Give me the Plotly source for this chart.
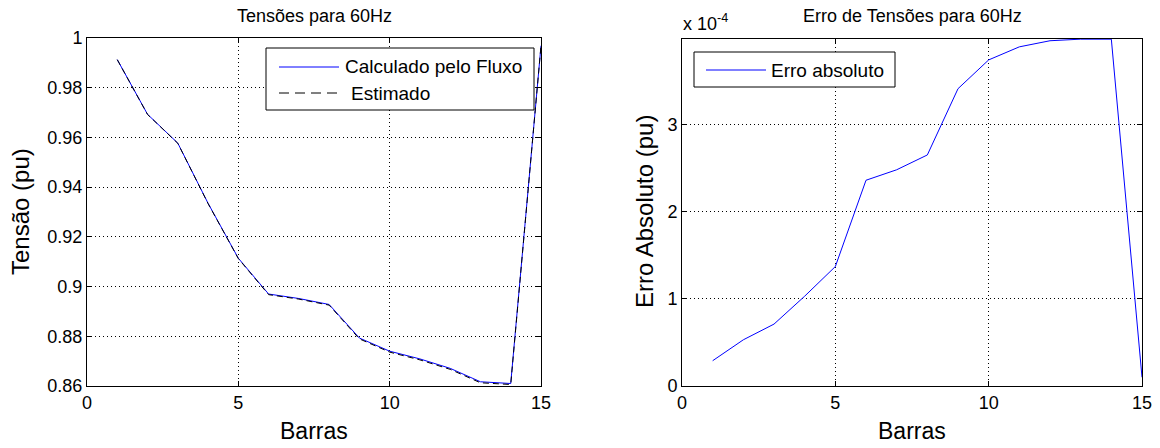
import plotly.graph_objects as go

# ---- data ----
barras = [1, 2, 3, 4, 5, 6, 7, 8, 9, 10, 11, 12, 13, 14, 15]
tensao_calculada = [0.9913, 0.9693, 0.9577, 0.9335, 0.9114, 0.8970, 0.8952, 0.8928,
                    0.8793, 0.8740, 0.8709, 0.8671, 0.8617, 0.8610, 0.9969]
tensao_estimada = [0.99127, 0.96925, 0.95763, 0.93340, 0.91126, 0.89676, 0.89495, 0.89253,
                   0.87896, 0.87363, 0.87051, 0.86670, 0.86130, 0.86060, 0.99689]
erro_absoluto_e4 = [0.29, 0.53, 0.71, 1.03, 1.37, 2.36, 2.48, 2.65,
                    3.41, 3.74, 3.89, 3.96, 3.978, 3.978, 0.10]

x_ticks = [0, 5, 10, 15]
y1_ticks = [0.86, 0.88, 0.90, 0.92, 0.94, 0.96, 0.98, 1.0]
y1_labels = ["0.86", "0.88", "0.9", "0.92", "0.94", "0.96", "0.98", "1"]
y2_ticks = [0, 1, 2, 3]

FONT = "Liberation Sans, Arial, sans-serif"
W, H = 1160, 448

fig = go.Figure()
fig.add_trace(go.Scatter(x=barras, y=tensao_calculada, mode="lines",
                         line=dict(color="#0000ff", width=1), xaxis="x", yaxis="y",
                         name="Calculado pelo Fluxo", showlegend=False))
fig.add_trace(go.Scatter(x=barras, y=tensao_estimada, mode="lines",
                         line=dict(color="#000000", width=1, dash="6px,4px"), xaxis="x", yaxis="y",
                         name="Estimado", showlegend=False))
fig.add_trace(go.Scatter(x=barras, y=erro_absoluto_e4, mode="lines",
                         line=dict(color="#0000ff", width=1), xaxis="x2", yaxis="y2",
                         name="Erro absoluto", showlegend=False))

def px(x):
    return x / W

def py(y):
    return 1 - y / H

axis_common = dict(showline=True, linecolor="black", linewidth=1, mirror="allticks",
                   ticks="inside", ticklen=5, tickcolor="black", automargin=False,
                   showgrid=True, gridcolor="black", gridwidth=1, griddash="1px,3px",
                   zeroline=False, tickfont=dict(family=FONT, size=18, color="black"))

fig.update_layout(
    width=W, height=H, margin=dict(l=0, r=0, t=0, b=0, pad=0),
    paper_bgcolor="white", plot_bgcolor="white",
    xaxis=dict(domain=[px(87), px(541)], range=[0, 15], tickvals=x_ticks,
               anchor="y", **axis_common),
    yaxis=dict(domain=[py(386), py(38)], range=[0.86, 1.0], tickvals=y1_ticks,
               ticktext=y1_labels, anchor="x", ticklabelstandoff=0, **axis_common),
    xaxis2=dict(domain=[px(682), px(1142)], range=[0, 15], tickvals=x_ticks,
                anchor="y2", **axis_common),
    yaxis2=dict(domain=[py(386), py(39)], range=[0, 3.98], tickvals=y2_ticks,
                anchor="x2", ticklabelstandoff=0, **axis_common),
    showlegend=False,
)

ann = []
def text(x, y, t, size, xanchor="center", yanchor="middle", angle=0):
    ann.append(dict(x=px(x), y=py(y), xref="paper", yref="paper", text=t, showarrow=False,
                    xanchor=xanchor, yanchor=yanchor, textangle=angle,
                    font=dict(family=FONT, size=size, color="black")))

text(314, 16, "Tensões para 60Hz", 18)
text(912, 16, "Erro de Tensões para 60Hz", 18)
text(314, 431, "Barras", 23)
text(912, 431, "Barras", 23)
text(20, 212, "Tensão (pu)", 24, angle=-90)
text(644, 212, "Erro Absoluto (pu)", 24, angle=-90)
text(681, 22, "x 10<sup>-4</sup>", 18, xanchor="left")

# legend (left)
shapes = []
shapes.append(dict(type="rect", xref="paper", yref="paper", x0=px(266), x1=px(534),
                   y0=py(110), y1=py(48), line=dict(color="black", width=1), fillcolor="white"))
shapes.append(dict(type="line", xref="paper", yref="paper", x0=px(279), x1=px(339),
                   y0=py(67), y1=py(67), line=dict(color="#0000ff", width=1)))
shapes.append(dict(type="line", xref="paper", yref="paper", x0=px(279), x1=px(339),
                   y0=py(93), y1=py(93), line=dict(color="black", width=1, dash="10px,6px")))
text(343, 67, "Calculado pelo Fluxo", 19, xanchor="left")
text(349, 93, "Estimado", 19, xanchor="left")

# legend (right)
shapes.append(dict(type="rect", xref="paper", yref="paper", x0=px(694), x1=px(895),
                   y0=py(87), y1=py(52), line=dict(color="black", width=1), fillcolor="white"))
shapes.append(dict(type="line", xref="paper", yref="paper", x0=px(706), x1=px(766),
                   y0=py(70), y1=py(70), line=dict(color="#0000ff", width=1)))
text(769, 70, "Erro absoluto", 19, xanchor="left")

fig.update_layout(annotations=ann, shapes=shapes)
fig.write_html("out.html", config={"displayModeBar": False},
               post_script="document.body.style.margin='0';")
